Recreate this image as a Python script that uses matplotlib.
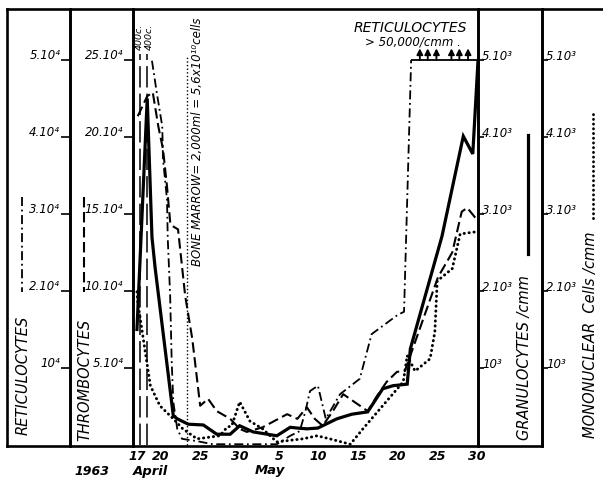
import matplotlib
matplotlib.use("Agg")
import matplotlib.pyplot as plt
from matplotlib.lines import Line2D

# ---------------- data (x = days after 17 April 1963) ----------------
x_tick_days = [0, 3, 8, 13, 18, 23, 28, 33, 38, 43]
x_tick_labels = ["17", "20", "25", "30", "5", "10", "15", "20", "25", "30"]

# Granulocytes /cmm (solid)
gran_days = [0.0, 1.3, 1.9, 2.3, 4.6, 5.1, 6.5, 8.4, 10.1, 11.8, 13.0, 14.7, 16.5,
             17.7, 19.4, 20.3, 21.5, 22.9, 25.3, 27.2, 29.2, 31.1, 32.4, 34.2, 34.6,
             38.6, 41.3, 42.5, 43.15]
gran_vals = [1500, 4500, 2700, 2300, 380, 340, 270, 260, 140, 140, 250, 170, 140,
             120, 230, 220, 210, 220, 340, 400, 430, 730, 770, 790, 1250,
             2710, 4010, 3780, 4970]

# Thrombocytes /cmm (dashed)
thr_days = [0.1, 1.3, 2.0, 2.7, 3.3, 3.8, 4.2, 4.4, 5.2, 6.1, 7.0, 8.0, 9.0, 10.1,
            11.8, 13.0, 13.9, 15.9, 19.0, 20.3, 21.5, 22.5, 23.5, 24.8, 26.1, 29.2,
            30.4, 31.6, 32.9, 33.9, 38.1, 39.9, 41.1, 41.8, 43.15]
thr_vals = [213500, 226500, 229000, 207000, 192000, 168000, 145000, 142500, 140000,
            97000, 69000, 25500, 30000, 22000, 17000, 10500, 8500, 11500, 20000,
            17000, 24500, 17000, 12500, 22000, 33000, 22000, 32000, 41000, 47500,
            48000, 109000, 125000, 151500, 154000, 145500]

# Reticulocytes /cmm (dash-dot)
ret_days = [1.9, 2.5, 3.2, 3.3, 3.8, 3.9, 4.2, 4.4, 4.6, 5.1, 5.7, 7.6, 9.6, 17.7,
            19.4, 20.6, 21.3, 21.9, 22.9, 23.9, 25.7, 28.2, 29.7, 33.0, 33.8, 34.7]
ret_vals = [49900, 45800, 41400, 37100, 31900, 26800, 19400, 10800, 5600, 2100, 800,
            500, 100, 100, 1200, 1800, 4300, 7000, 7700, 3400, 6600, 8600, 14400,
            16900, 17300, 50000]
ret_cap_value = 50000
ret_arrow_days = [35.8, 36.8, 37.9, 39.8, 40.8, 41.9]

# Mononuclear cells /cmm (dotted)
mono_days = [0.0, 0.1, 0.8, 1.7, 2.9, 4.6, 5.8, 7.6, 10.5, 11.4, 12.0, 13.0, 14.3,
             15.9, 17.7, 21.0, 22.8, 24.4, 27.0, 28.6, 31.1, 33.7, 34.2, 35.2, 37.1,
             37.7, 38.0, 39.9, 40.9, 43.0]
mono_vals = [1990, 1860, 1380, 770, 510, 340, 210, 80, 120, 230, 250, 560, 310,
             210, 40, 80, 120, 80, 10, 210, 510, 820, 1160, 960, 1120,
             1470, 2130, 2290, 2740, 2770]

# events
transfusion_days = [0.4, 1.3]
transfusion_labels = ["400c.", "400c."]
marrow_day = 6.3

# axis ticks of the side scales
ret_ticks = [10000, 20000, 30000, 40000, 50000]
ret_tick_labels = ["10⁴", "2.10⁴", "3.10⁴", "4.10⁴", "5.10⁴"]
thr_ticks = [50000, 100000, 150000, 200000, 250000]
thr_tick_labels = ["5.10⁴", "10.10⁴", "15.10⁴", "20.10⁴", "25.10⁴"]
cell_ticks = [1000, 2000, 3000, 4000, 5000]
cell_tick_labels = ["10³", "2.10³", "3.10³", "4.10³", "5.10³"]

# ---------------- layout ----------------
W, H = 603, 481
fig = plt.figure(figsize=(W / 100, H / 100), dpi=100)
fig.patch.set_facecolor("white")

TOP, BOT = 10, 447
U0, U1 = -0.013, 5.662          # vertical range in "scale units"
XL = (-0.5, 43.16)


def rect(x0, x1, y0=TOP, y1=BOT):
    return [x0 / W, 1 - y1 / H, (x1 - x0) / W, (y1 - y0) / H]


def P(x, y):
    return (x / W, 1 - y / H)


SPW = 1.9
FONT = dict(style="italic", family="DejaVu Sans")


def panel(x0, x1, spines, scale):
    a = fig.add_axes(rect(x0, x1))
    a.set_xlim(0, 1)
    a.set_xticks([])
    a.set_ylim(U0 * scale, U1 * scale)
    a.patch.set_visible(False)
    for s in a.spines:
        a.spines[s].set_visible(s in spines)
        a.spines[s].set_linewidth(SPW)
    return a


# left panels
ax_pr = panel(7, 70, ("left", "right", "top", "bottom"), 1e4)
ax_pt = panel(70, 133, ("left", "right", "top", "bottom"), 5e4)
# right panels
ax_pg = panel(478, 542, ("left", "right", "top", "bottom"), 1e3)
ax_pm = panel(542, 603, ("left", "top"), 1e3)

for a, ticks, labels in ((ax_pr, ret_ticks, ret_tick_labels),
                         (ax_pt, thr_ticks, thr_tick_labels)):
    a.yaxis.tick_right()
    a.set_yticks(ticks)
    a.tick_params(axis="y", direction="in", length=6.5, width=1.2,
                  labelright=False, labelleft=False)
    for v, lab in zip(ticks, labels):
        a.annotate(lab, xy=(1, v), xycoords=a.get_yaxis_transform(),
                   xytext=(-7, -1), textcoords="offset points",
                   ha="right", va="bottom", fontsize=8.5, **FONT)

for a in (ax_pg, ax_pm):
    a.yaxis.tick_left()
    a.set_yticks(cell_ticks)
    a.tick_params(axis="y", direction="in", length=4, width=1.2,
                  labelright=False, labelleft=False)
    for v, lab in zip(cell_ticks, cell_tick_labels):
        a.annotate(lab, xy=(0, v), xycoords=a.get_yaxis_transform(),
                   xytext=(3, -1.5), textcoords="offset points",
                   ha="left", va="bottom", fontsize=8.5, **FONT)

# main plotting area
ax = fig.add_axes(rect(133, 478))
ax.patch.set_visible(False)
ax.set_xlim(*XL)
ax.set_ylim(U0 * 1e3, U1 * 1e3)
for s in ax.spines.values():
    s.set_linewidth(SPW)
ax.set_yticks([])
ax.set_xticks(x_tick_days)
ax.set_xticklabels(x_tick_labels, fontsize=9, fontweight="bold", **FONT)
ax.tick_params(axis="x", length=0, pad=2)

ax_r = ax.twinx()
ax_t = ax.twinx()
for a, sc in ((ax_r, 1e4), (ax_t, 5e4)):
    a.set_ylim(U0 * sc, U1 * sc)
    a.set_yticks([])
    for s in a.spines.values():
        s.set_visible(False)

# series
ax.plot(gran_days, gran_vals, color="black", lw=2.3, solid_joinstyle="miter",
        clip_on=False, zorder=5)
ax.plot(mono_days, mono_vals, color="black", lw=2.1, linestyle=(0, (0.1, 1.6)),
        dash_capstyle="round", clip_on=False, zorder=4)
ax_t.plot(thr_days, thr_vals, color="black", lw=1.5, linestyle=(0, (5, 2.2)),
          clip_on=False, zorder=4)
ax_r.plot(ret_days, ret_vals, color="black", lw=1.3, linestyle=(0, (5, 2, 1, 2)),
          clip_on=False, zorder=4)
ax_r.hlines(ret_cap_value, ret_days[-1], XL[1], color="black", lw=1.3)
for d in ret_arrow_days:
    ax_r.annotate("", xy=(d, ret_cap_value * 1.03), xytext=(d, ret_cap_value),
                  arrowprops=dict(arrowstyle="-|>,head_length=0.35,head_width=0.18",
                                  color="black", lw=1.3, shrinkA=0, shrinkB=0))

# events
label_shift = [-0.15, 0.3]
for d, lab, sh in zip(transfusion_days, transfusion_labels, label_shift):
    ax.vlines(d, 0, 5080, color="black", lw=1.1, linestyles=[(0, (14, 4))])
    ax.text(d + sh, 5080 + 60, lab, rotation=90, ha="center", va="bottom",
            fontsize=6.8, **FONT)
ax.vlines(marrow_day, 0, 5040, color="black", lw=1.0, linestyles=[(0, (1, 1.6))])
ax.text(*P(198, 142), "BONE MARROW= 2,000ml = 5,6x10¹⁰cells",
        transform=fig.transFigure, rotation=90, ha="center", va="center",
        fontsize=8.5, **FONT)

ax.text(*P(410, 28), "RETICULOCYTES", transform=fig.transFigure, ha="center",
        va="center", fontsize=10, **FONT)
ax.text(*P(413, 42), "> 50,000/cmm .", transform=fig.transFigure, ha="center",
        va="center", fontsize=8.5, **FONT)

# axis titles and legend samples in the side panels
fig.text(*P(23, 375), "RETICULOCYTES", rotation=90, ha="center", va="center",
         fontsize=10.5, **FONT)
fig.text(*P(85, 380), "THROMBOCYTES", rotation=90, ha="center", va="center",
         fontsize=10.5, **FONT)
fig.text(*P(524, 358), "GRANULOCYTES /cmm", rotation=90, ha="center", va="center",
         fontsize=10.5, **FONT)
fig.text(*P(590, 335), "MONONUCLEAR  Cells /cmm", rotation=90, ha="center",
         va="center", fontsize=10.5, **FONT)

fig.add_artist(Line2D([22 / W] * 2, [1 - 198 / H, 1 - 293 / H], color="black",
                      lw=1.3, linestyle=(0, (5, 2, 1, 2))))
fig.add_artist(Line2D([84 / W] * 2, [1 - 198 / H, 1 - 293 / H], color="black",
                      lw=1.5, linestyle=(0, (5, 2.2))))
fig.add_artist(Line2D([528 / W] * 2, [1 - 136 / H, 1 - 255 / H], color="black",
                      lw=2.3))
fig.add_artist(Line2D([593 / W] * 2, [1 - 115 / H, 1 - 223 / H], color="black",
                      lw=2.0, linestyle=(0, (0.1, 1.6)), dash_capstyle="round"))

# date captions
fig.text(*P(92, 472), "1963", ha="center", va="center", fontsize=9,
         fontweight="bold", **FONT)
fig.text(*P(150, 472), "April", ha="center", va="center", fontsize=9.5,
         fontweight="bold", **FONT)
fig.text(*P(270, 471), "May", ha="center", va="center", fontsize=9.5,
         fontweight="bold", **FONT)

fig.savefig("out.png", dpi=100, facecolor="white")
